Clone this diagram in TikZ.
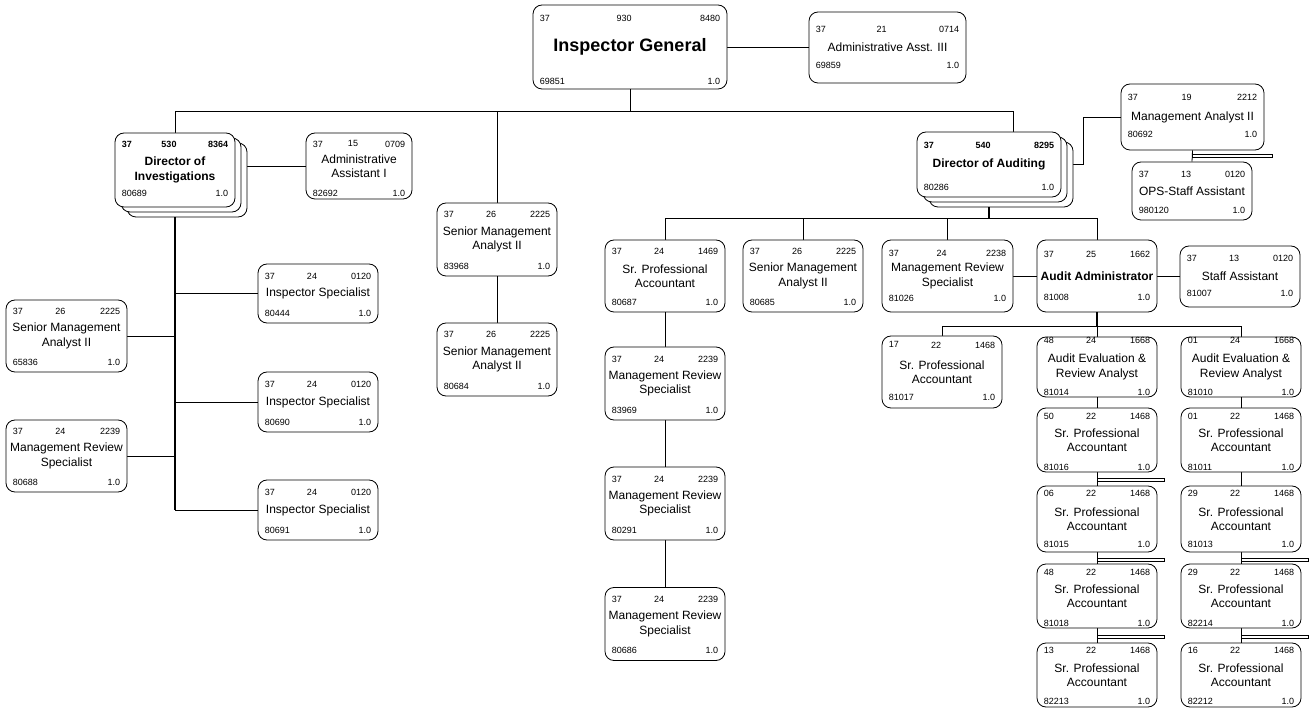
\documentclass[tikz,border=0pt]{standalone}
\usepackage{fontspec}
\setmainfont{Liberation Sans}
\usetikzlibrary{backgrounds,calc,shadows}

\tikzset{
  posn/.style={draw, line width=0.8pt, rounded corners=9pt, fill=white, align=center,
    inner sep=2pt, font=\fontsize{12}{14.5}\selectfont, minimum width=120pt, minimum height=72pt},
  posnum/.style={inner sep=0pt, font=\fontsize{9}{10}\selectfont},
  lead/.style={font=\fontsize{12}{14.5}\selectfont\bfseries},
  stack/.style={double copy shadow={shadow xshift=6pt, shadow yshift=-5pt}},
  link/.style={line width=0.8pt},
  trunk/.style={line width=1.8pt},
  dblbar/.style={line width=0.8pt, fill=white},
}

\def\posinsets#1/#2\relax{\def\postop{#1}\def\posbot{#2}}
\newcommand\posbox[9]{%
  \posinsets#3\relax
  \node[posn,#2] (#1) {#7};
  \node[posnum,anchor=north west] (#1-a) at ([shift={(7,\postop)}]#1.north west) {#4};
  \node[posnum,anchor=north] (#1-b) at ([shift={(-6,\postop)}]#1.north) {#5};
  \node[posnum,anchor=north east] (#1-c) at ([shift={(-7,\postop)}]#1.north east) {#6};
  \node[posnum,anchor=south west] (#1-d) at ([shift={(7,-\posbot)}]#1.south west) {#8};
  \node[posnum,anchor=south east] (#1-e) at ([shift={(-7,-\posbot)}]#1.south east) {#9};
}

\begin{document}
\begin{tikzpicture}[x=1pt,y=-1pt]
\useasboundingbox (0,0) rectangle (1309,708);

\posbox{IG}{at={(630,47)},minimum width=194pt,minimum height=84pt,font=\fontsize{18}{20}\selectfont\bfseries}{10/5}{37}{930}{8480}{Inspector General}{69851}{1.0}
\posbox{AAiii}{at={(887.5,47.5)},minimum width=157pt,minimum height=71pt}{14/15}{37}{21}{0714}{Administrative Asst. III}{69859}{1.0}

\posbox{DirInv}{at={(175,170)},minimum height=74pt,lead,stack}{8/11}{\textbf{37}}{\textbf{530}}{\textbf{8364}}{Director of\\Investigations}{80689}{1.0}
\posbox{AdmI}{at={(359,166)},minimum width=106pt,minimum height=66pt}{8/3}{37}{15}{0709}{Administrative\\Assistant I}{82692}{1.0}
\posbox{ISa}{at={(318,293.5)},minimum height=59pt}{9/7}{37}{24}{0120}{Inspector Specialist}{80444}{1.0}
\posbox{ISb}{at={(318,402)},minimum height=60pt}{9/7}{37}{24}{0120}{Inspector Specialist}{80690}{1.0}
\posbox{ISc}{at={(318,510)},minimum height=60pt}{9/7}{37}{24}{0120}{Inspector Specialist}{80691}{1.0}
\posbox{SMAc}{at={(66.5,336)},minimum width=121pt}{8/7}{37}{26}{2225}{Senior Management\\Analyst II}{65836}{1.0}
\posbox{MRSa}{at={(66.5,456)},minimum width=121pt}{8/7}{37}{24}{2239}{Management Review\\Specialist}{80688}{1.0}

\posbox{SMAa}{at={(497,239.5)},minimum height=73pt}{8/7}{37}{26}{2225}{Senior Management\\Analyst II}{83968}{1.0}
\posbox{SMAb}{at={(497,359.5)},minimum height=73pt}{8/7}{37}{26}{2225}{Senior Management\\Analyst II}{80684}{1.0}

\posbox{DirAud}{at={(989,164.5)},minimum width=144pt,minimum height=65pt,lead,stack}{10/7}{\textbf{37}}{\textbf{540}}{\textbf{8295}}{Director of Auditing}{80286}{1.0}
\posbox{MAii}{at={(1192.5,117)},minimum width=143pt,minimum height=66pt}{10/13}{37}{19}{2212}{Management Analyst II}{80692}{1.0}
\posbox{OPS}{at={(1192,191)},minimum height=58pt}{9/7}{37}{13}{0120}{OPS-Staff Assistant}{980120}{1.0}

\posbox{SPAa}{at={(665,276)}}{8/7}{37}{24}{1469}{Sr. Professional\\Accountant}{80687}{1.0}
\posbox{SMAd}{at={(803,276)}}{8/7}{37}{26}{2225}{Senior Management\\Analyst II}{80685}{1.0}
\posbox{MRSb}{at={(947.5,276)},minimum width=131pt}{10/11}{37}{24}{2238}{Management Review\\Specialist}{81026}{1.0}
\posbox{AA}{at={(1097,276)},lead}{11/12}{37}{25}{1662}{Audit Administrator}{81008}{1.0}
\posbox{StA}{at={(1240,276.5)},minimum height=61pt}{9/11}{37}{13}{0120}{Staff Assistant}{81007}{1.0}

\posbox{MRSc}{at={(665,383.5)},minimum height=73pt}{9/7}{37}{24}{2239}{Management Review\\Specialist}{83969}{1.0}
\posbox{MRSd}{at={(665,503.5)},minimum height=73pt}{9/7}{37}{24}{2239}{Management Review\\Specialist}{80291}{1.0}
\posbox{MRSe}{at={(665,624)},minimum height=73pt}{9/7}{37}{24}{2239}{Management Review\\Specialist}{80686}{1.0}

\posbox{SPb}{at={(942,372)}}{6/8}{17}{22}{1468}{Sr. Professional\\Accountant}{81017}{1.0}
\posbox{AEa}{at={(1097,367)},minimum height=60pt}{0/2}{48}{24}{1668}{Audit Evaluation \&\\Review Analyst}{81014}{1.0}
\posbox{AEb}{at={(1241,367)},minimum height=60pt}{0/2}{01}{24}{1668}{Audit Evaluation \&\\Review Analyst}{81010}{1.0}

\posbox{SPc}{at={(1097,440)},minimum height=64pt}{5/2}{50}{22}{1468}{Sr. Professional\\Accountant}{81016}{1.0}
\posbox{SPd}{at={(1097,519)},minimum height=66pt}{4/5}{06}{22}{1468}{Sr. Professional\\Accountant}{81015}{1.0}
\posbox{SPe}{at={(1097,596)},minimum height=64pt}{5/2}{48}{22}{1468}{Sr. Professional\\Accountant}{81018}{1.0}
\posbox{SPf}{at={(1097,675)},minimum height=64pt}{4/3}{13}{22}{1468}{Sr. Professional\\Accountant}{82213}{1.0}
\posbox{SPg}{at={(1241,440)},minimum height=64pt}{5/2}{01}{22}{1468}{Sr. Professional\\Accountant}{81011}{1.0}
\posbox{SPh}{at={(1241,519)},minimum height=66pt}{4/5}{29}{22}{1468}{Sr. Professional\\Accountant}{81013}{1.0}
\posbox{SPi}{at={(1241,596)},minimum height=64pt}{5/2}{29}{22}{1468}{Sr. Professional\\Accountant}{82214}{1.0}
\posbox{SPj}{at={(1241,675)},minimum height=64pt}{4/3}{16}{22}{1468}{Sr. Professional\\Accountant}{82212}{1.0}

\begin{scope}[on background layer]
\coordinate (igbus) at ([shift={(0,22)}]IG.south);
\draw[link] (IG.south) -- (igbus);
\draw[link] (DirInv.north) |- (igbus) -| ([shift={(24,0)}]DirAud.north);
\draw[link] (SMAa.north) -- (SMAa.north |- igbus);
\draw[link] (IG.east |- AAiii.west) -- (AAiii.west);

\draw[link] (DirInv.east |- AdmI.west) -- (AdmI.west);
\draw[trunk] (DirInv.south) -- (DirInv.south |- ISc.west);
\draw[link] (DirInv.south |- ISa.west) -- (ISa.west);
\draw[link] (DirInv.south |- ISb.west) -- (ISb.west);
\draw[link] (DirInv.south |- ISc.west) -- (ISc.west);
\draw[link] (SMAc.east) -- (SMAc.east -| DirInv.south);
\draw[link] (MRSa.east) -- (MRSa.east -| DirInv.south);
\draw[link] (SMAa.south) -- (SMAb.north);

\draw[link] (DirAud.east) -- ++(22,0) |- (MAii.west);
\draw[link] (MAii.south) -- (OPS.north);

\coordinate (dabus) at ([shift={(0,21)}]DirAud.south);
\draw[trunk] (DirAud.south) -- (dabus);
\draw[link] (SPAa.north) |- (dabus) -| (AA.north);
\draw[link] (SMAd.north) -- (SMAd.north |- dabus);
\draw[link] (MRSb.north) -- (MRSb.north |- dabus);
\draw[link] (SPAa.south) -- (MRSe.north);
\draw[link] (MRSb.east) -- (AA.west);
\draw[link] (AA.east) -- (AA.east -| StA.west);

\coordinate (aabus) at ([shift={(0,14)}]AA.south);
\draw[trunk] (AA.south) -- (aabus);
\draw[link] (SPb.north) |- (aabus) -| (AEb.north);
\draw[link] (AEa.north) -- (aabus);
\draw[link] (AEa.south) -- (SPf.north);
\draw[link] (AEb.south) -- (SPj.north);
\end{scope}

\draw[dblbar] ([shift={(0,4.5)}]MAii.south) rectangle ++(80,3);
\draw[dblbar] ([shift={(0,5.5)}]SPc.south) rectangle ++(67,3);
\draw[dblbar] ([shift={(0,5.5)}]SPd.south) rectangle ++(67,3);
\draw[dblbar] ([shift={(0,6.5)}]SPe.south) rectangle ++(67,3);
\draw[dblbar] ([shift={(0,5.5)}]SPh.south) rectangle ++(67,3);
\draw[dblbar] ([shift={(0,6.5)}]SPi.south) rectangle ++(67,3);
\end{tikzpicture}
\end{document}
